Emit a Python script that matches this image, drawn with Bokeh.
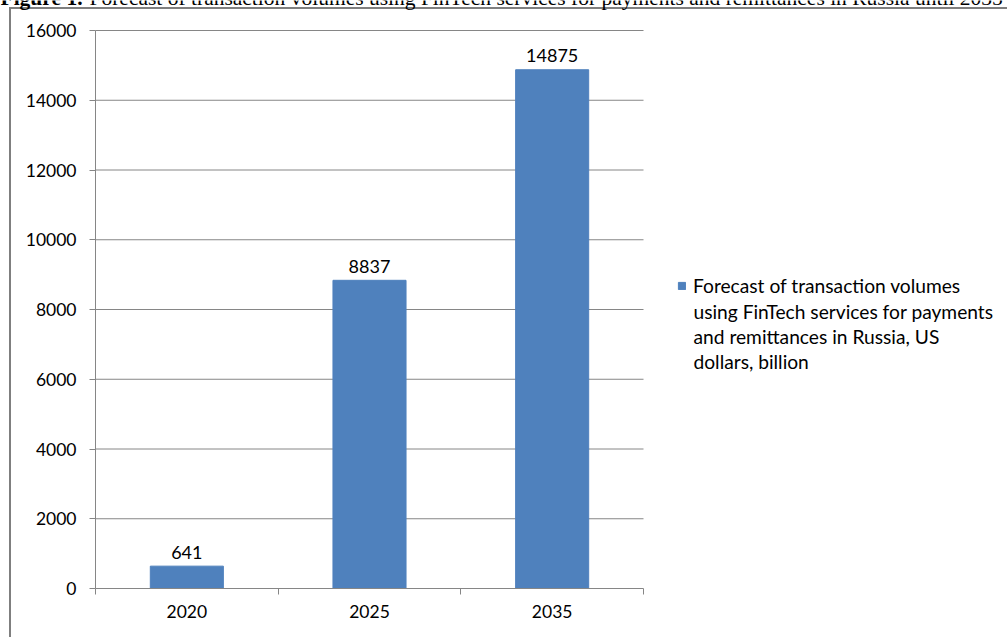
from bokeh.plotting import figure
from bokeh.models import (FixedTicker, Legend, LegendItem, Label,
                          ColumnDataSource, Range1d)
from bokeh.core.properties import value
from bokeh.embed import file_html
from bokeh.resources import INLINE

years = ["2020", "2025", "2035"]
volumes = [641, 8837, 14875]
y_ticks = [0, 2000, 4000, 6000, 8000, 10000, 12000, 14000, 16000]
legend_lines = ["Forecast of transaction volumes",
                "using FinTech services for payments",
                "and remittances in Russia, US",
                "dollars, billion"]
title_bold = "Figure 1."
title_rest = ("Forecast of transaction volumes using FinTech services for payments "
              "and remittances in Russia until 2035")

FONT = "Lato"
GRAY = "#868686"
BAR = "#4F81BD"
BORDER = "#7f7f7f"
W, H = 1007, 637
# plot-area placement inside the canvas (pixels)
PL, PR, PT, PB = 95, 643, 30, 588

n = len(years)
ymax = y_ticks[-1]
xs = (PR - PL) / n            # px per category
ys = (PB - PT) / ymax         # px per unit
x_range = Range1d(-PL / xs, n + (W - PR) / xs)
y_range = Range1d(-(H - PB) / ys, ymax + PT / ys)

xpos = [i + 0.5 for i in range(n)]
src = ColumnDataSource(dict(x=xpos, top=volumes, lab=[str(v) for v in volumes]))

p = figure(width=W, height=H, output_backend="svg", toolbar_location=None,
           x_range=x_range, y_range=y_range,
           min_border_left=0, min_border_right=0, min_border_top=0,
           min_border_bottom=0)
p.outline_line_color = None
p.background_fill_alpha = 0
p.border_fill_alpha = 0
# outer chart box (left and top edges) drawn behind the transparent canvas
p.styles = {
    "background": (f"linear-gradient({BORDER},{BORDER}) 9px 7px / 2px 100% no-repeat, "
                   f"linear-gradient({BORDER},{BORDER}) 9px 7px / 100% 2px no-repeat, white")
}

# horizontal gridlines limited to the plot area
p.xgrid.grid_line_color = None
p.ygrid.grid_line_color = None
p.segment(x0=[0] * (len(y_ticks) - 1), x1=[n] * (len(y_ticks) - 1),
          y0=y_ticks[1:], y1=y_ticks[1:], line_color=GRAY, line_width=1)

bars = p.vbar(x="x", top="top", width=0.4, source=src, fill_color=BAR,
              line_color=BAR, line_width=1)
p.text(x="x", y="top", text="lab", source=src, text_align="center",
       text_baseline="alphabetic", y_offset=-14, text_font_size=value("18px"),
       text_font=value(FONT), text_color="#000000")

# y axis
p.yaxis.fixed_location = 0
p.yaxis.bounds = (0, ymax)
p.yaxis.ticker = FixedTicker(ticks=y_ticks)
p.yaxis.axis_line_color = GRAY
p.yaxis.major_tick_line_color = GRAY
p.yaxis.major_tick_out = 6
p.yaxis.major_tick_in = 0
p.yaxis.minor_tick_line_color = None
p.yaxis.major_label_standoff = 13
p.yaxis.major_label_text_font = FONT
p.yaxis.major_label_text_font_size = "17.5px"
p.yaxis.major_label_text_color = "#000000"

# x axis: labels at category centres, ticks at category boundaries
p.xaxis.fixed_location = 0
p.xaxis.bounds = (0, n)
p.xaxis.ticker = FixedTicker(ticks=xpos, minor_ticks=list(range(n + 1)))
p.xaxis.major_label_overrides = {x: y for x, y in zip(xpos, years)}
p.xaxis.axis_line_color = GRAY
p.xaxis.major_tick_line_color = None
p.xaxis.major_tick_out = 6
p.xaxis.major_tick_in = 0
p.xaxis.minor_tick_line_color = GRAY
p.xaxis.minor_tick_out = 6
p.xaxis.minor_tick_in = 0
p.xaxis.major_label_standoff = 10
p.xaxis.major_label_text_font = FONT
p.xaxis.major_label_text_font_size = "17.5px"
p.xaxis.major_label_text_color = "#000000"

LEG_SIZE = "19.2px"
legend = Legend(items=[LegendItem(label=legend_lines[0], renderers=[bars])],
                location=(677, 340), padding=0, margin=0, spacing=0,
                border_line_color=None, background_fill_alpha=0,
                glyph_width=9, glyph_height=9, label_standoff=7,
                label_height=22,
                label_text_font=FONT, label_text_font_size=LEG_SIZE,
                label_text_color="#000000")
p.add_layout(legend, "center")
p.add_layout(Label(x=693, y=H - 336, x_units="screen", y_units="screen",
                   text="\n".join(legend_lines[1:]), text_font=FONT,
                   text_font_size=LEG_SIZE, text_baseline="middle",
                   text_line_height=1.19 * 17.5 / 19.2, text_color="#000000"))

# cropped figure caption at the very top
p.add_layout(Label(x=0, y=H + 3, x_units="screen", y_units="screen", text=title_bold,
                   text_font="Liberation Serif", text_font_style="bold",
                   text_font_size="21.5px", text_baseline="alphabetic",
                   text_color="#000000"))
p.add_layout(Label(x=89, y=H + 3, x_units="screen", y_units="screen", text=title_rest,
                   text_font="Liberation Serif", text_font_size="21.5px",
                   text_baseline="alphabetic", text_color="#000000"))

open("out.html", "w").write(file_html(p, INLINE))
